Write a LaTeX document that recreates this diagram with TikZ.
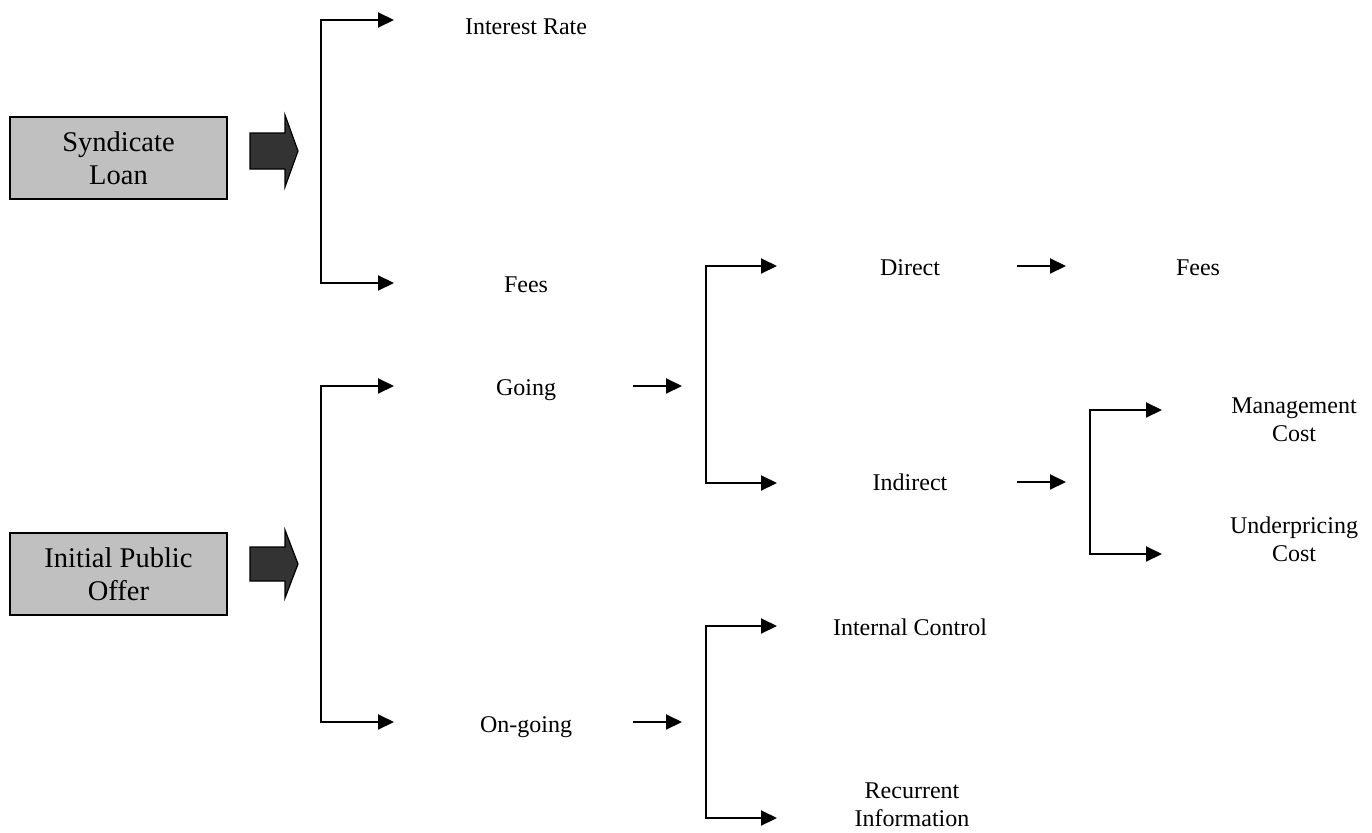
\documentclass[tikz,border=0pt]{standalone}
\usepackage{fontspec}
\setmainfont{Liberation Serif}
\usetikzlibrary{arrows.meta}
\definecolor{boxgray}{HTML}{C0C0C0}
\definecolor{arrowdark}{HTML}{333333}
\begin{document}
\begin{tikzpicture}[x=1pt,y=-1pt,
  lbl/.style={font=\fontsize{24}{27.5}\selectfont, align=center, inner sep=0pt, anchor=base},
  srcbox/.style={draw=black, line width=1.5pt, fill=boxgray, minimum width=217pt, minimum height=82pt, inner sep=0pt, align=center, font=\fontsize{28.5}{33}\selectfont},
  conn/.style={line width=2pt, -{Triangle[length=16pt,width=15pt]}},
  bracket/.style={line width=2pt, {Triangle[length=16pt,width=15pt]}-{Triangle[length=16pt,width=15pt]}},
  blockarrow/.style={draw=black, line width=1.2pt, fill=arrowdark}]
\useasboundingbox (0,0) rectangle (1372,832);

% source boxes
\node[srcbox] (syn) at (118.5,158) {Syndicate\\Loan};
\node[srcbox] (ipo) at (118.5,574) {Initial Public\\Offer};

% block arrows
\draw[blockarrow] (250,133) -- (285,133) -- (285,115) -- (298,151) -- (285,187) -- (285,169) -- (250,169) -- cycle;
\draw[blockarrow] (250,547) -- (285,547) -- (285,530) -- (298,564) -- (285,598) -- (285,581) -- (250,581) -- cycle;

% labels (multi-line nodes: base = last line)
\node[lbl] (ir) at (526,35) {Interest Rate};
\node[lbl] (fees1) at (526,292) {Fees};
\node[lbl] (going) at (526,395) {Going};
\node[lbl] (ongoing) at (526,732) {On-going};
\node[lbl] (direct) at (910,275) {Direct};
\node[lbl] (fees2) at (1198,275) {Fees};
\node[lbl] (indirect) at (910,490) {Indirect};
\node[lbl] (mgmt) at (1294,441) {Management\\Cost};
\node[lbl] (under) at (1294,561) {Underpricing\\Cost};
\node[lbl] (intctrl) at (910,635) {Internal Control};
\node[lbl] (recur) at (912,826) {Recurrent\\Information};

% coordinates
\coordinate (b1t) at (321,20);
\coordinate (b1b) at (321,283);
\coordinate (e1t) at (394,20);
\coordinate (e1b) at (394,283);
\coordinate (b2t) at (321,386);
\coordinate (b2b) at (321,722);
\coordinate (e2t) at (394,386);
\coordinate (e2b) at (394,722);
\coordinate (b3t) at (706,266);
\coordinate (b3b) at (706,483);
\coordinate (e3t) at (777,266);
\coordinate (e3b) at (777,483);
\coordinate (b4t) at (1090,410);
\coordinate (b4b) at (1090,554);
\coordinate (e4t) at (1162,410);
\coordinate (e4b) at (1162,554);
\coordinate (b5t) at (706,626);
\coordinate (b5b) at (706,818);
\coordinate (e5t) at (777,626);
\coordinate (e5b) at (777,818);
\coordinate (ga1) at (633,386);
\coordinate (ga2) at (682,386);
\coordinate (oa1) at (633,722);
\coordinate (oa2) at (682,722);
\coordinate (da1) at (1017,266);
\coordinate (da2) at (1066,266);
\coordinate (ia1) at (1017,482);
\coordinate (ia2) at (1066,482);

% brackets
\draw[bracket] (e1t) -- (b1t) -- (b1b) -- (e1b);
\draw[bracket] (e2t) -- (b2t) -- (b2b) -- (e2b);
\draw[bracket] (e3t) -- (b3t) -- (b3b) -- (e3b);
\draw[bracket] (e4t) -- (b4t) -- (b4b) -- (e4b);
\draw[bracket] (e5t) -- (b5t) -- (b5b) -- (e5b);

% simple arrows
\draw[conn] (ga1) -- (ga2);
\draw[conn] (oa1) -- (oa2);
\draw[conn] (da1) -- (da2);
\draw[conn] (ia1) -- (ia2);
\end{tikzpicture}
\end{document}
